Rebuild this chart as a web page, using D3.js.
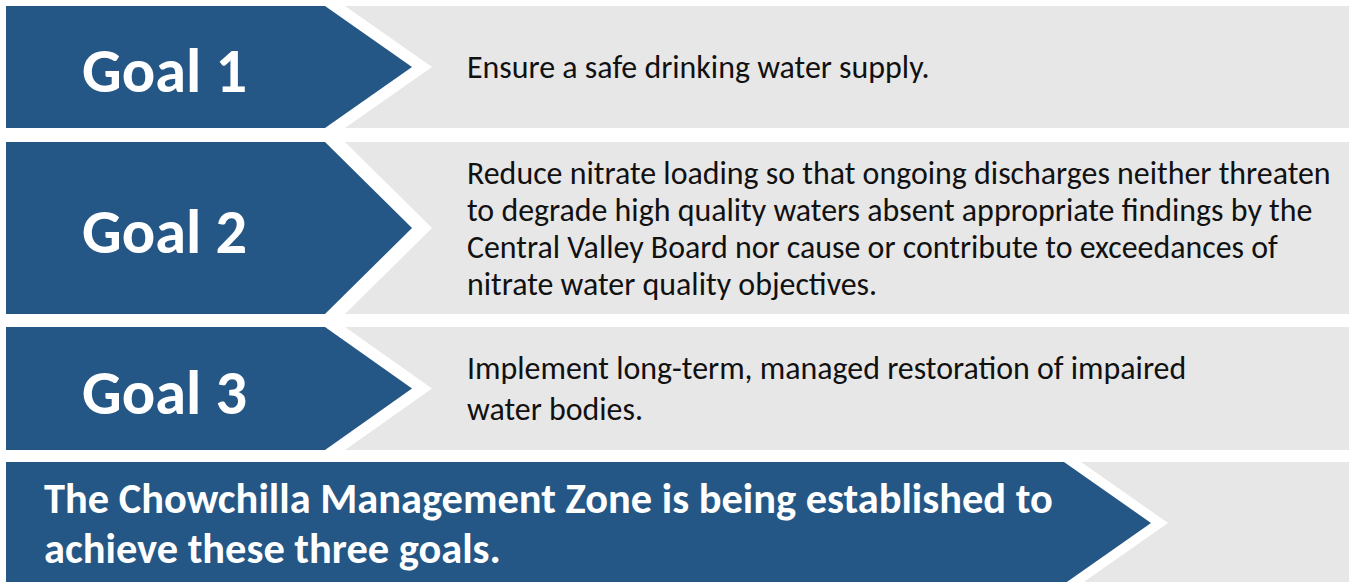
<!DOCTYPE html>
<html>
<head>
<meta charset="utf-8">
<script src="https://cdn.jsdelivr.net/npm/d3@7"></script>
<style>
  html, body { margin: 0; padding: 0; background: #fff; }
  svg { display: block; }
</style>
</head>
<body>
<div id="chart"></div>
<script>
// goal labels and the text beside them (one entry per line)
var goalLabels = ["Goal 1", "Goal 2", "Goal 3"];
var goalTexts = [
    ["Ensure a safe drinking water supply."],
    ["Reduce nitrate loading so that ongoing discharges neither threaten",
     "to degrade high quality waters absent appropriate findings by the",
     "Central Valley Board nor cause or contribute to exceedances of",
     "nitrate water quality objectives."],
    ["Implement long-term, managed restoration of impaired",
     "water bodies."]
];
var bannerLines = [
    "The Chowchilla Management Zone is being established to",
    "achieve these three goals."
];

var width = 1349, height = 582;
var blue = "#245785", gray = "#e7e7e7", ink = "#111";
var fontStack = "Carlito, Calibri, Lato, 'Open Sans', sans-serif";

// row bands (top, height) and line spacing of the body text
var rows = [
    {y: 6,   h: 122, gap: 37},
    {y: 142, h: 172, gap: 37},
    {y: 327, h: 123, gap: 41}
];
var arrowLeft = 6, arrowRight = 325, tipDepth = 87, whiteShift = 20;

var svg = d3.select("#chart").append("svg")
    .attr("width", width)
    .attr("height", height);

// helper: font size so that a string spans a given width
function fitSize(str, weight, target) {
    var t = svg.append("text")
        .style("font-family", fontStack)
        .style("font-weight", weight)
        .style("font-size", "100px")
        .text(str);
    var w = t.node().getComputedTextLength();
    t.remove();
    return 100 * target / w;
}

var goalSize = fitSize("Goal 1", 700, 165);
var bodySize = fitSize(goalTexts[1][0], 400, 864);
var bannerSize = fitSize(bannerLines[0], 700, 1009);

function chevron(x0, x1, y0, y1, depth) {
    var yc = (y0 + y1) / 2;
    return d3.line()([[x0, y0], [x1, y0], [x1 + depth, yc], [x1, y1], [x0, y1]]) + "Z";
}

var rowG = svg.selectAll(".row")
    .data(rows)
    .enter().append("g")
    .attr("class", "row");

// grey panel behind each goal
rowG.append("rect")
    .attr("x", arrowRight)
    .attr("y", function(d) { return d.y; })
    .attr("width", width - arrowRight)
    .attr("height", function(d) { return d.h; })
    .style("fill", gray);

// white outline chevron, then the blue one on top
rowG.append("path")
    .attr("d", function(d) { return chevron(arrowLeft, arrowRight + whiteShift, d.y, d.y + d.h, tipDepth); })
    .style("fill", "#fff");

rowG.append("path")
    .attr("d", function(d) { return chevron(arrowLeft, arrowRight, d.y, d.y + d.h, tipDepth); })
    .style("fill", blue);

rowG.append("text")
    .attr("x", 82)
    .attr("y", function(d) { return d.y + d.h / 2 + 25; })
    .style("font-family", fontStack)
    .style("font-weight", 700)
    .style("font-size", goalSize + "px")
    .style("fill", "#fff")
    .text(function(d, i) { return goalLabels[i]; });

// body text, lines centred on the row
rowG.each(function(d, i) {
    var lines = goalTexts[i];
    var mid = d.y + d.h / 2 + 11;
    d3.select(this).selectAll(".body")
        .data(lines)
        .enter().append("text")
        .attr("class", "body")
        .attr("x", 467)
        .attr("y", function(l, j) { return mid + (j - (lines.length - 1) / 2) * d.gap; })
        .style("font-family", fontStack)
        .style("font-size", bodySize + "px")
        .style("fill", ink)
        .text(function(l) { return l; });
});

// bottom banner
var bannerTop = 462, bannerH = 122, bannerRight = 1064;
svg.append("rect")
    .attr("x", bannerRight)
    .attr("y", bannerTop)
    .attr("width", width - bannerRight)
    .attr("height", bannerH)
    .style("fill", gray);

svg.append("path")
    .attr("d", chevron(arrowLeft, bannerRight + 17, bannerTop, bannerTop + bannerH, tipDepth))
    .style("fill", "#fff");

svg.append("path")
    .attr("d", chevron(arrowLeft, bannerRight, bannerTop, bannerTop + bannerH, tipDepth))
    .style("fill", blue);

svg.selectAll(".banner")
    .data(bannerLines)
    .enter().append("text")
    .attr("class", "banner")
    .attr("x", 44)
    .attr("y", function(d, i) { return 513 + i * 50; })
    .style("font-family", fontStack)
    .style("font-weight", 700)
    .style("font-size", bannerSize + "px")
    .style("fill", "#fff")
    .text(function(d) { return d; });
</script>
</body>
</html>
